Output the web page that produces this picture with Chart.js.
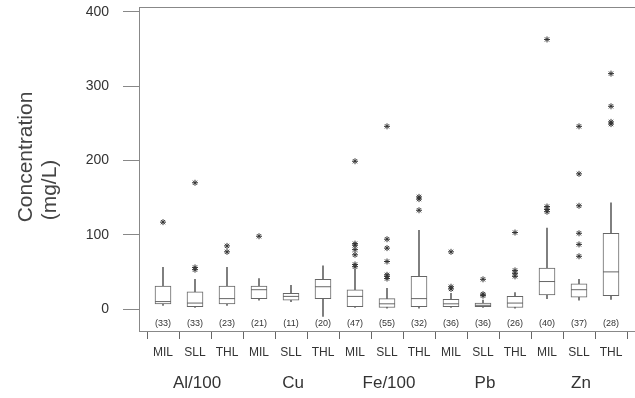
<!DOCTYPE html>
<html>
<head>
<meta charset="utf-8">
<script src="https://cdn.jsdelivr.net/npm/chart.js@4/dist/chart.umd.min.js"></script>
<style>
  html, body { margin: 0; padding: 0; background: #fff; }
  #wrap { width: 635px; height: 398px; }
</style>
</head>
<body>
<div id="wrap"><canvas id="chart" width="635" height="398"></canvas></div>
<script>
const metals = ['Al/100', 'Cu', 'Fe/100', 'Pb', 'Zn'];
const sites = ['MIL', 'SLL', 'THL'];
const counts = [33, 33, 23, 21, 11, 20, 47, 55, 32, 36, 36, 26, 40, 37, 28];
const whiskerLow = [5, 2, 5, 12, 10, -10, 2, 1, 1, 2, 2, 1, 14, 12, 13];
const q1 = [7, 3, 7, 14, 12, 14, 3, 2, 3, 3, 3, 2, 19, 16, 18];
const median = [10, 8, 14, 26, 17, 30, 17, 7, 14, 7, 5, 8, 37, 26, 50];
const q3 = [31, 23, 31, 31, 21, 40, 26, 14, 44, 13, 8, 17, 55, 34, 102];
const whiskerHigh = [56, 40, 56, 41, 32, 58, 53, 28, 106, 21, 12, 22, 109, 40, 143];
const outliers = [
    [117],
    [53, 56, 170],
    [77, 85],
    [98],
    [],
    [],
    [57, 60, 73, 80, 86, 88, 199],
    [41, 44, 46, 64, 82, 94, 246],
    [133, 148, 151],
    [27, 30, 77],
    [18, 20, 40],
    [44, 48, 52, 103],
    [131, 134, 138, 363],
    [71, 87, 102, 139, 182, 246],
    [249, 252, 273, 317]
];
const yTicks = [0, 100, 200, 300, 400];

const idx = counts.map((c, i) => i);
const outlierPoints = [];
outliers.forEach((list, i) => list.forEach(v => outlierPoints.push({x: i, y: v})));

const lineColor = '#666';
const textColor = '#333';
const font = 'Liberation Sans, Arial, sans-serif';

// counts, group names and y title drawn on top of the axes
const annotations = {
    id: 'annotations',
    afterDraw(chart) {
        const ctx = chart.ctx;
        const x = chart.scales.x;
        const area = chart.chartArea;
        ctx.save();
        // frame top line
        ctx.strokeStyle = '#888';
        ctx.lineWidth = 1;
        ctx.beginPath();
        ctx.moveTo(area.left, area.top + 0.5);
        ctx.lineTo(area.right, area.top + 0.5);
        ctx.stroke();

        ctx.fillStyle = textColor;
        ctx.textAlign = 'center';
        ctx.textBaseline = 'middle';
        ctx.font = '9px ' + font;
        counts.forEach((c, i) => {
            ctx.fillText('(' + c + ')', x.getPixelForValue(i), 324);
        });
        ctx.font = '17px ' + font;
        metals.forEach((m, g) => {
            ctx.fillText(m, x.getPixelForValue(g * 3 + 1) + 2, 383);
        });

        ctx.fillStyle = '#444';
        ctx.font = '21px ' + font;
        ctx.translate(26, 157);
        ctx.rotate(-Math.PI / 2);
        ctx.fillText('Concentration', 0, 0);
        ctx.fillText('(mg/L)', -33, 24);
        ctx.restore();
    }
};

const noPad = s => {
    s.paddingTop = 0;
    s.paddingBottom = 0;
    s.paddingLeft = 0;
    s.paddingRight = 0;
};

new Chart(document.getElementById('chart'), {
    type: 'bar',
    data: {
        datasets: [
            {
                type: 'scatter',
                label: 'outliers',
                data: outlierPoints,
                pointStyle: 'star',
                radius: 3,
                borderColor: '#333',
                borderWidth: 1,
                order: 0
            },
            {
                type: 'scatter',
                label: 'median',
                data: idx.map(i => ({x: i, y: median[i]})),
                pointStyle: 'line',
                radius: 8,
                borderColor: lineColor,
                borderWidth: 1,
                order: 1
            },
            {
                label: 'box',
                data: idx.map(i => ({x: i, y: [q1[i], q3[i]]})),
                backgroundColor: '#fff',
                borderColor: lineColor,
                borderWidth: 1,
                borderSkipped: false,
                barThickness: 16,
                grouped: false,
                order: 2
            },
            {
                label: 'whisker',
                data: idx.map(i => ({x: i, y: [whiskerLow[i], whiskerHigh[i]]})),
                backgroundColor: lineColor,
                borderWidth: 0,
                barThickness: 1,
                grouped: false,
                order: 3
            }
        ]
    },
    options: {
        responsive: false,
        animation: false,
        layout: { autoPadding: false, padding: { top: 7, right: 0, left: 0, bottom: 0 } },
        plugins: {
            legend: { display: false },
            tooltip: { enabled: false }
        },
        scales: {
            x: {
                type: 'linear',
                offset: false,
                min: -0.75,
                max: 14.75,
                afterBuildTicks: s => { s.ticks = idx.map(v => ({value: v})); },
                afterFit: s => { s.height = 67; noPad(s); },
                border: { color: '#888', width: 1 },
                grid: { drawOnChartArea: false, tickLength: 8, color: lineColor },
                ticks: {
                    autoSkip: false,
                    maxRotation: 0,
                    padding: 6,
                    color: textColor,
                    font: { family: font, size: 12 },
                    callback: v => sites[v % 3]
                }
            },
            y: {
                min: -29.6,
                max: 406.7,
                afterBuildTicks: s => { s.ticks = yTicks.map(v => ({value: v})); },
                afterFit: s => { s.width = 139; noPad(s); },
                border: { color: '#888', width: 1 },
                grid: { drawOnChartArea: false, tickLength: 16, color: '#888' },
                ticks: {
                    padding: 14,
                    color: textColor,
                    font: { family: font, size: 14 }
                }
            }
        }
    },
    plugins: [annotations]
});
</script>
</body>
</html>
